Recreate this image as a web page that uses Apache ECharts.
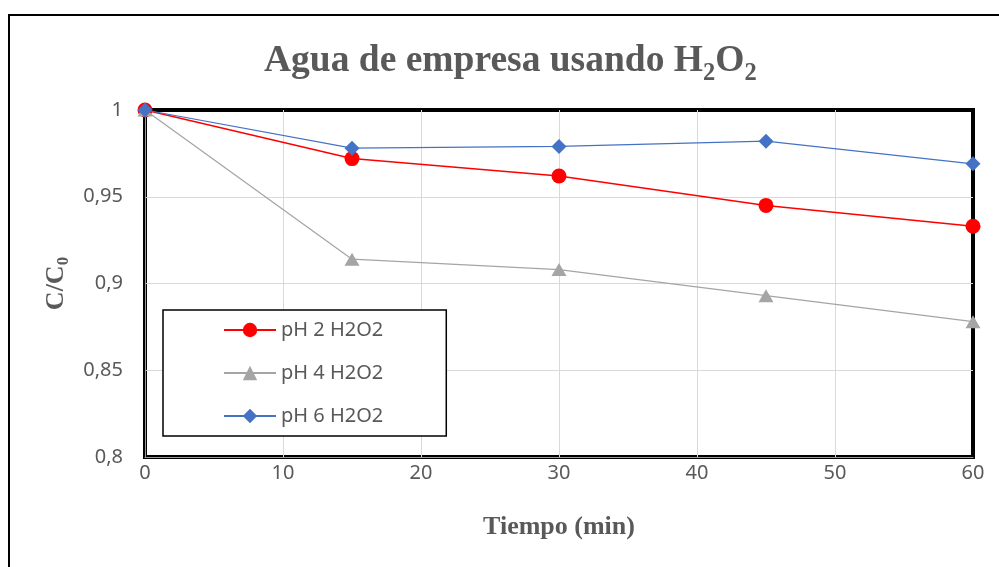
<!DOCTYPE html>
<html>
<head>
<meta charset="utf-8">
<script src="https://cdn.jsdelivr.net/npm/echarts@6/dist/echarts.min.js"></script>
<style>html,body{margin:0;padding:0;background:#fff;}#c{width:999px;height:567px;}</style>
</head>
<body>
<div id="c"></div>
<script>
const times = [0, 15, 30, 45, 60];
const seriesNames = ['pH 2 H2O2', 'pH 4 H2O2', 'pH 6 H2O2'];
const ph2 = [1, 0.972, 0.962, 0.945, 0.933];
const ph4 = [1, 0.914, 0.908, 0.893, 0.878];
const ph6 = [1, 0.978, 0.979, 0.982, 0.969];
const xTicks = [0, 10, 20, 30, 40, 50, 60];
const yTicks = [0.8, 0.85, 0.9, 0.95, 1];

const chart = echarts.init(document.getElementById('c'), null, {renderer: 'canvas'});
const pair = (arr) => times.map((t, i) => [t, arr[i]]);
const labelFont = 'Noto Sans';
const grey = '#595959';

chart.setOption({
  backgroundColor: '#fff',
  animation: false,
  title: {
    text: 'Agua de empresa usando H{s|2}O{s|2}',
    left: 259, top: 32,
    textStyle: {
      fontFamily: 'Liberation Serif', fontWeight: 'bold', fontSize: 37.5, color: grey,
      rich: { s: { fontFamily: 'Liberation Serif', fontWeight: 'bold', fontSize: 24.5, color: grey, padding: [24, 0, 0, 0] } }
    }
  },
  graphic: [{
    type: 'rect', silent: true, z: -10,
    shape: { x: 9, y: 15, width: 1100, height: 700 },
    style: { fill: 'none', stroke: '#000', lineWidth: 2 }
  }],
  grid: { left: 145, top: 110, right: 26, bottom: 110, show: true, borderColor: '#000', borderWidth: 4, backgroundColor: 'transparent' },
  legend: {
    orient: 'vertical', left: 163, top: 310,
    data: seriesNames,
    itemWidth: 52, itemHeight: 18, itemGap: 23,
    padding: [10, 63, 10, 60],
    borderColor: '#000', borderWidth: 1.5, backgroundColor: '#fff',
    textStyle: { fontFamily: labelFont, fontSize: 20, color: grey }
  },
  xAxis: {
    type: 'value', min: 0, max: 60, interval: 10,
    name: 'Tiempo (min)', nameLocation: 'middle', nameGap: 57,
    nameTextStyle: { fontFamily: 'Liberation Serif', fontWeight: 'bold', fontSize: 26, color: grey },
    axisLine: { show: true, lineStyle: { color: '#9a9a9a', width: 1 } },
    axisTick: { show: false },
    axisLabel: { fontFamily: labelFont, fontSize: 20, color: grey, margin: 6,
      formatter: (v) => xTicks.includes(v) ? String(v) : '' },
    splitLine: { show: true, showMinLine: false, showMaxLine: false, lineStyle: { color: '#d9d9d9', width: 1 } }
  },
  yAxis: {
    type: 'value', min: 0.8, max: 1, interval: 0.05,
    name: 'C/C{s|0}', nameLocation: 'middle', nameGap: 63, nameRotate: 90,
    nameTextStyle: { fontFamily: 'Liberation Serif', fontWeight: 'bold', fontSize: 26, color: grey,
      rich: { s: { fontFamily: 'Liberation Serif', fontWeight: 'bold', fontSize: 17, color: grey, padding: [16, 0, 0, 0] } } },
    axisLine: { show: true, lineStyle: { color: '#9a9a9a', width: 1 } },
    axisTick: { show: false },
    axisLabel: { fontFamily: labelFont, fontSize: 20, color: grey, margin: 22,
      formatter: (v) => {
        const r = Math.round(v * 100) / 100;
        return yTicks.some(t => Math.abs(t - r) < 1e-9) ? String(r).replace('.', ',') : '';
      } },
    splitLine: { show: true, showMinLine: false, showMaxLine: false, lineStyle: { color: '#d9d9d9', width: 1 } }
  },
  series: [
    { name: seriesNames[0], type: 'line', data: pair(ph2), symbol: 'circle', symbolSize: 15,
      itemStyle: { color: '#ff0000' }, lineStyle: { color: '#ff0000', width: 1.5 }, z: 3 },
    { name: seriesNames[1], type: 'line', data: pair(ph4), symbol: 'triangle', symbolSize: [15, 13],
      itemStyle: { color: '#a5a5a5' }, lineStyle: { color: '#a5a5a5', width: 1.25 }, z: 4 },
    { name: seriesNames[2], type: 'line', data: pair(ph6), symbol: 'diamond', symbolSize: 15,
      itemStyle: { color: '#4472c4' }, lineStyle: { color: '#4472c4', width: 1.25 }, z: 5 }
  ]
});
</script>
</body>
</html>
